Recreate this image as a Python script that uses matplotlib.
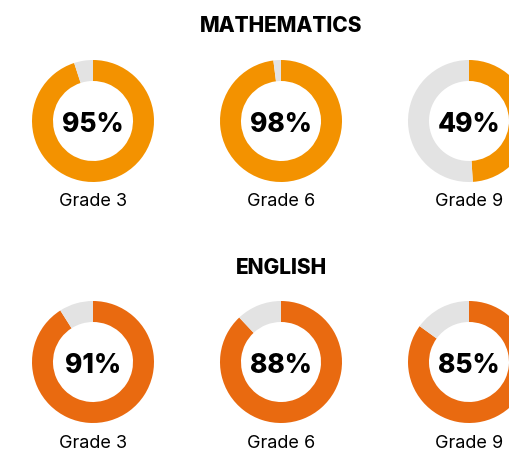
import matplotlib.pyplot as plt

# data
subjects = ['MATHEMATICS', 'ENGLISH']
grades = ['Grade 3', 'Grade 6', 'Grade 9']
math_pct = [95, 98, 49]
english_pct = [91, 88, 85]
values = [math_pct, english_pct]
colors = ['#F39200', '#E96A10']
rest_color = '#E3E3E3'

W, H = 509, 451
fig = plt.figure(figsize=(W / 100, H / 100), dpi=100)
ax = fig.add_axes([0, 0, 1, 1])
ax.set_xlim(0, W)
ax.set_ylim(0, H)
ax.set_aspect('equal')
ax.axis('off')

font = 'Inter'
x_centers = [93, 281, 469]
row_y = [121, 362]      # donut centres (pixels from top)
title_y = [26, 268]
label_y = [201, 443]
radius = 61

for r, subject in enumerate(subjects):
    ax.text(281, H - title_y[r], subject, ha='center', va='center',
            fontsize=15, fontweight='heavy', family=font)
    for c, grade in enumerate(grades):
        p = values[r][c]
        cy = H - row_y[r]
        ax.pie([p, 100 - p], colors=[colors[r], rest_color], startangle=90,
               counterclock=False, radius=radius, center=(x_centers[c], cy),
               wedgeprops=dict(width=21, edgecolor='none'), frame=True)
        ax.text(x_centers[c], cy - 4, f'{p}%', ha='center', va='center',
                fontsize=19, fontweight='heavy', family=font)
        ax.text(x_centers[c], H - label_y[r], grade, ha='center', va='center',
                fontsize=13, family=font)

ax.set_xlim(0, W)
ax.set_ylim(0, H)
ax.axis('off')

plt.savefig('out.png', dpi=100)
